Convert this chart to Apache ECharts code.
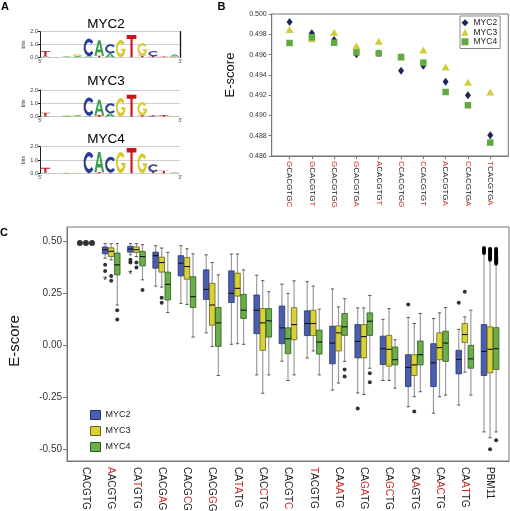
<!DOCTYPE html>
<html><head><meta charset="utf-8">
<script src="https://cdn.jsdelivr.net/npm/echarts@6/dist/echarts.min.js"></script>
<style>html,body{margin:0;padding:0;background:#fff}#c{width:510px;height:511px}</style>
</head><body><div id="c"></div><script>
const FONT = '"Liberation Sans", Arial, Helvetica, sans-serif';

// ---------- Panel A: sequence logos (columns bottom->top: [letter, bits]) ----------
const logoMYC2 = [
  [['A',0.08],['T',0.42]], [['T',0.03]], [['G',0.04],['A',0.05]], [['A',0.1],['G',0.15]],
  [['A',0.08],['C',1.38]], [['T',0.12],['A',1.22]], [['A',0.3],['C',0.72]], [['G',1.35]],
  [['T',1.74]], [['T',0.12],['G',1.0]], [['T',0.1],['C',0.38]], [['T',0.06]], [['T',0.05],['A',0.16]]
];
const logoMYC3 = [
  [['A',0.05],['T',0.25]], [], [['A',0.08],['G',0.06]], [['G',0.05],['A',0.05]],
  [['A',0.06],['C',1.38]], [['T',0.12],['A',1.15]], [['A',0.25],['C',0.75]], [['G',1.4]],
  [['T',1.65]], [['T',0.1],['G',1.0]], [['C',0.05],['T',0.06]], [['T',0.12]], [['A',0.04]]
];
const logoMYC4 = [
  [['A',0.06],['T',0.35]], [], [['A',0.04]], [['G',0.05]],
  [['C',1.6]], [['T',0.1],['A',1.5]], [['T',0.05],['C',1.2]], [['G',1.6]],
  [['T',1.9]], [['G',1.5]], [['T',0.12],['C',0.55]], [['T',0.2]], [['A',0.06]]
];
const logoTitles = ['MYC2','MYC3','MYC4'];

// ---------- Panel B ----------
const bCategories = ['GCACGTGC','GCACGTGT','GCACGTGG','GCACGTGA','ACACGTGT','CCACGTGG','CCACGTGT','ACACGTGA','CCACGTGA','TCACGTGA'];
const bMYC2 = [0.49921,0.49809,0.49744,0.49602,0.49612,0.49441,0.49491,0.49333,0.49198,0.48804];
const bMYC3 = [0.49846,0.49757,0.49819,0.49688,0.49731,0.49576,0.49645,0.49477,0.49326,0.49231];
const bMYC4 = [0.49714,0.49770,0.49717,0.49622,0.49612,0.49576,0.49520,0.49231,0.49100,0.48732];
const bYTicks = [0.486,0.488,0.490,0.492,0.494,0.496,0.498,0.500];

// ---------- Panel C ----------
const cCategories = ['CACGTG','AACGTG','CATGTG','CACGAG','CACGCG','CACGGG','CATATG','CACCTG','CACGTC','TACGTG','CAAATG','CAGATG','CAGCTG','CAAGTG','CAACTG','CAATTG','PBM11'];
const cYTicks = [-0.5,-0.25,0,0.25,0.5];
// [min, q1, median, q3, max]
const cMYC2 = [null,
  [0.419,0.440,0.460,0.473,0.489],[0.435,0.448,0.463,0.476,0.489],[0.285,0.371,0.431,0.448,0.479],
  [0.202,0.334,0.395,0.431,0.479],[0.06,0.221,0.269,0.363,0.435],[0.005,0.206,0.25,0.358,0.439],
  [-0.142,0.056,0.169,0.242,0.337],[-0.076,0.008,0.084,0.189,0.294],[-0.061,0.047,0.105,0.166,0.306],
  [-0.215,-0.089,0.011,0.092,0.271],[-0.229,-0.06,0.019,0.1,0.18],[-0.169,-0.092,-0.016,0.044,0.125],
  [-0.295,-0.198,-0.106,-0.045,0.134],[-0.326,-0.198,-0.084,0.008,0.129],[-0.287,-0.137,-0.068,-0.024,0.077],
  [-0.416,-0.145,-0.029,0.1,0.44]];
const cMYC3 = [null,
  [0.411,0.427,0.452,0.469,0.489],[0.427,0.447,0.46,0.473,0.489],[0.28,0.352,0.398,0.424,0.468],
  [0.197,0.318,0.379,0.422,0.464],[-0.005,0.097,0.194,0.298,0.398],[0.008,0.237,0.274,0.347,0.439],
  [-0.23,-0.024,0.108,0.177,0.311],[-0.142,0.027,0.1,0.181,0.31],[-0.027,0.047,0.105,0.169,0.285],
  [-0.181,-0.027,0.06,0.094,0.185],[-0.236,-0.06,0.042,0.1,0.18],[-0.169,-0.1,-0.019,0.048,0.177],
  [-0.247,-0.145,-0.094,-0.045,0.105],[-0.247,-0.069,-0.011,0.06,0.156],[-0.129,0.013,0.052,0.105,0.137],
  [-0.444,-0.132,-0.019,0.089,0.411]];
const cMYC4 = [null,
  [0.194,0.339,0.387,0.444,0.489],[0.315,0.382,0.427,0.452,0.484],[0.158,0.218,0.293,0.352,0.447],
  [0.04,0.182,0.234,0.33,0.44],[-0.145,-0.005,0.108,0.182,0.339],[0.005,0.129,0.169,0.245,0.363],
  [-0.142,0.04,0.118,0.177,0.258],[-0.169,-0.04,0.032,0.084,0.25],[-0.142,-0.042,0.016,0.073,0.174],
  [-0.077,0.048,0.089,0.153,0.224],[-0.11,0.048,0.116,0.156,0.24],[-0.206,-0.094,-0.069,-0.008,0.027],
  [-0.223,-0.094,-0.045,0.021,0.153],[-0.239,-0.077,0.011,0.068,0.182],[-0.239,-0.11,-0.065,0,0.169],
  [-0.416,-0.116,-0.016,0.085,0.387]];
// outliers [categoryIndex, value]
const cMYC2Outliers = [[0,0.492],[1,0.387],[1,0.358],[2,0.411],[2,0.398],[11,-0.303],[13,0.197],[15,0.205],
  [16,0.444],[16,0.449],[16,0.454],[16,0.459],[16,0.464],[16,0.468]];
const cMYC3Outliers = [[0,0.492],[1,0.334],[1,0.31],[2,0.398],[2,0.374],[3,0.229],[3,0.205],[13,-0.318],[15,0.258],[16,-0.5],
  [16,0.411],[16,0.416],[16,0.421],[16,0.426],[16,0.431],[16,0.436],[16,0.441],[16,0.446],[16,0.451],[16,0.456],[16,0.461],[16,0.465]];
const cMYC4Outliers = [[0,0.492],[1,0.169],[1,0.124],[2,0.266],[10,-0.116],[10,-0.15],[11,-0.134],[11,-0.177],[16,-0.456],
  [16,0.394],[16,0.399],[16,0.404],[16,0.409],[16,0.414],[16,0.419],[16,0.424],[16,0.429],[16,0.434],[16,0.439],[16,0.444],[16,0.449],[16,0.454],[16,0.459],[16,0.465]];
// extreme values marked with '*'
const cMYC2Extremes = [[1,0.319],[2,0.35]];
const seriesNames = ['MYC2','MYC3','MYC4'];

// ---------- styling ----------
const LETTER_PATHS = {
  T: 'M0,0 L100,0 L100,18 L61,18 L61,100 L39,100 L39,18 L0,18 Z',
  A: 'M0,100 L38,0 L62,0 L100,100 L78,100 L70,77 L30,77 L22,100 Z M36,60 L64,60 L50,20 Z',
  C: 'M88.3,17.9 A50,50 0 1 0 88.3,82.1 L73,69.3 A30,30 0 1 1 73,30.7 Z',
  G: 'M88.3,17.9 A50,50 0 1 0 100,50 L55,50 L55,63 L76.5,63 A30,30 0 1 1 73,30.7 Z'
};
const LETTER_COLORS = {A:'#35a047', C:'#2b3c98', G:'#d8c92c', T:'#c8161d'};
const BOX_FILL = ['#4b5ead','#d8d236','#6bae4a'];
const BOX_STROKE = ['#26326a','#66621a','#2d5a1e'];
const BOX_OFFSETS = [-0.24, 0, 0.24];
const RED = '#d42a2a';
const AXIS_GRAY = '#777';

function slotOf(cat, s) { // the CACGTC group shows MYC4 in the middle and MYC3 on the right
  if (cat === 8 && s > 0) return 3 - s;
  return s;
}

function logoData(cols) {
  const out = [];
  cols.forEach((col, pos) => {
    let base = 0;
    col.forEach(([L, h]) => { out.push([pos, base, base + h, L]); base += h; });
  });
  return out;
}
function logoRender(params, api) {
  const pos = api.value(0), b = api.value(1), t = api.value(2);
  const L = api.value(3);
  const p0 = api.coord([pos + 0.05, t]);
  const p1 = api.coord([pos + 0.95, b]);
  return {type:'path', shape:{pathData: LETTER_PATHS[L], x:p0[0], y:p0[1], width:p1[0]-p0[0], height:Math.max(0.3, p1[1]-p0[1]), layout:'cover'},
    style:{fill: LETTER_COLORS[L]}};
}

function makeBoxRender(s) {
  return function (params, api) {
    const cat = api.value(0);
    const x = cat + BOX_OFFSETS[slotOf(cat, s)];
    const unit = api.size([1, 0])[0];
    const bw = unit * 0.22;
    const cx = api.coord([x, 0])[0];
    const ys = [1,2,3,4,5].map(i => api.coord([x, api.value(i)])[1]);
    const [yMin, yQ1, yMed, yQ3, yMax] = ys;
    const wc = '#9c9c9c';
    return {type:'group', children:[
      {type:'line', shape:{x1:cx,y1:yMax,x2:cx,y2:yQ3}, style:{stroke:wc,lineWidth:1.2}},
      {type:'line', shape:{x1:cx,y1:yQ1,x2:cx,y2:yMin}, style:{stroke:wc,lineWidth:1.2}},
      {type:'line', shape:{x1:cx-1.6,y1:yMax,x2:cx+1.6,y2:yMax}, style:{stroke:'#555',lineWidth:1}},
      {type:'line', shape:{x1:cx-1.6,y1:yMin,x2:cx+1.6,y2:yMin}, style:{stroke:'#555',lineWidth:1}},
      {type:'rect', shape:{x:cx-bw/2,y:yQ3,width:bw,height:yQ1-yQ3}, style:{fill:BOX_FILL[s], stroke:BOX_STROKE[s], lineWidth:0.8}},
      {type:'line', shape:{x1:cx-bw/2,y1:yMed,x2:cx+bw/2,y2:yMed}, style:{stroke:'#111',lineWidth:1.1}}
    ]};
  };
}

function richDiff(label) {
  if (label === 'PBM11') return '{k|' + label + '}';
  const ref = 'CACGTG';
  let s = '';
  for (let i = 0; i < label.length; i++) {
    s += (label[i] !== ref[i] ? '{r|' : '{k|') + label[i] + '}';
  }
  return s;
}
function richEnds(label) {
  return '{r|' + label[0] + '}{k|' + label.slice(1, -1) + '}{r|' + label.slice(-1) + '}';
}

// ---------- grids / axes ----------
const logoTops = [31.7, 90, 146.7];
const logoHeights = [25.6, 26.7, 26.6];
const grids = [], xAxes = [], yAxes = [], series = [];
[logoMYC2, logoMYC3, logoMYC4].forEach((cols, i) => {
  grids.push({left:40, top:logoTops[i], width:140, height:logoHeights[i], outerBoundsMode:'none'});
  xAxes.push({type:'value', gridIndex:i, min:0, max:13, axisLine:{show:false, onZero:false}, axisTick:{show:false}, splitLine:{show:false},
    axisLabel:{customValues:[0,13], formatter:v => v === 0 ? "5'" : "3'", fontSize:5, margin:1.5, color:'#333', fontFamily:FONT}});
  yAxes.push({type:'value', gridIndex:i, min:0, max:2, interval:1,
    axisLine:{show:true, onZero:false, lineStyle:{color:'#222', width:1}}, axisTick:{show:true, length:2, lineStyle:{color:'#222'}},
    splitLine:{show:true, lineStyle:{color:'#cfcfcf', width:1}},
    axisLabel:{formatter:v => v.toFixed(1), fontSize:5.5, margin:2, color:'#333', fontFamily:FONT},
    name:'bits', nameLocation:'middle', nameGap:13, nameTextStyle:{fontSize:5, color:'#333', fontFamily:FONT}});
  series.push({type:'custom', name:'logo' + i, xAxisIndex:i, yAxisIndex:i, renderItem:logoRender, clip:false,
    data:logoData(cols), encode:{x:0, y:[1,2]}, silent:true});
});
// right border of first logo
yAxes.push({type:'value', gridIndex:0, min:0, max:2, position:'right', axisLine:{show:true, onZero:false, lineStyle:{color:'#111', width:1.3}},
  axisTick:{show:false}, axisLabel:{show:false}, splitLine:{show:false}});

// Panel B grid (index 3)
grids.push({left:271.7, right:1.7, top:14, bottom:355, show:true, borderColor:AXIS_GRAY, borderWidth:1, outerBoundsMode:'none'});
const bIdx = bCategories.map((_, i) => i);
xAxes.push({type:'value', gridIndex:3, min:-0.8, max:9.81, splitLine:{show:false},
  axisLine:{show:true, onZero:false, lineStyle:{color:AXIS_GRAY}},
  axisTick:{show:true, customValues:bIdx, length:3, lineStyle:{color:AXIS_GRAY}},
  axisLabel:{customValues:bIdx, rotate:-90, margin:5, formatter:v => richEnds(bCategories[Math.round(v)]),
    rich:{k:{color:'#222', fontSize:8, fontFamily:FONT}, r:{color:RED, fontSize:8, fontFamily:FONT}}}});
yAxes.push({type:'value', gridIndex:3, min:0.486, max:0.5, splitLine:{show:false},
  axisLine:{show:true, onZero:false, lineStyle:{color:AXIS_GRAY}},
  axisTick:{show:true, customValues:bYTicks, length:3, lineStyle:{color:AXIS_GRAY}},
  axisLabel:{customValues:bYTicks, formatter:v => v.toFixed(3), fontSize:7, margin:5, color:'#333', fontFamily:FONT}});
const bYIndex = yAxes.length - 1;
const bSymbols = [['diamond',[6,8],'#1c2759'], ['triangle',[8,7],'#d2cc3c'], ['rect',[6.5,6.5],'#62a845']];
[bMYC2, bMYC3, bMYC4].forEach((vals, s) => {
  series.push({type:'scatter', name:seriesNames[s], xAxisIndex:3, yAxisIndex:bYIndex,
    symbol:bSymbols[s][0], symbolSize:bSymbols[s][1], itemStyle:{color:bSymbols[s][2], opacity:1},
    data:vals.map((v, i) => [i, v]), z:3 + s});
});

// Panel C grid (index 4)
grids.push({left:67, right:1, top:227, bottom:50, show:true, borderColor:AXIS_GRAY, borderWidth:1, outerBoundsMode:'none'});
const cIdx = cCategories.map((_, i) => i);
xAxes.push({type:'value', gridIndex:4, min:-0.75, max:16.75, splitLine:{show:false},
  axisLine:{show:true, onZero:false, lineStyle:{color:AXIS_GRAY}}, axisTick:{show:false},
  axisLabel:{customValues:cIdx, rotate:-90, margin:6, formatter:v => richDiff(cCategories[Math.round(v)]),
    rich:{k:{color:'#222', fontSize:10, fontFamily:FONT}, r:{color:RED, fontSize:10, fontFamily:FONT}}}});
yAxes.push({type:'value', gridIndex:4, min:-0.556, max:0.569, splitLine:{show:false},
  axisLine:{show:true, onZero:false, lineStyle:{color:AXIS_GRAY}},
  axisTick:{show:true, customValues:cYTicks, length:4, lineStyle:{color:AXIS_GRAY}},
  axisLabel:{customValues:cYTicks, formatter:v => v.toFixed(2), fontSize:10, margin:5, color:'#333', fontFamily:FONT}});
const cYIndex = yAxes.length - 1;
[cMYC2, cMYC3, cMYC4].forEach((stats, s) => {
  const data = [];
  stats.forEach((st, cat) => { if (st) data.push([cat].concat(st)); });
  series.push({type:'custom', name:seriesNames[s], xAxisIndex:4, yAxisIndex:cYIndex, renderItem:makeBoxRender(s),
    clip:false, data:data, encode:{x:0, y:[1,2,3,4,5]}, itemStyle:{color:BOX_FILL[s]}, z:2});
});
[cMYC2Outliers, cMYC3Outliers, cMYC4Outliers].forEach((outs, s) => {
  series.push({type:'scatter', name:'out' + s, xAxisIndex:4, yAxisIndex:cYIndex, symbol:'circle',
    itemStyle:{color:'#000'}, z:4,
    data:outs.map(([cat, v]) => ({value:[cat + BOX_OFFSETS[slotOf(cat, s)], v], symbolSize: cat === 0 ? 6 : 4}))});
});
series.push({type:'custom', name:'extremes', xAxisIndex:4, yAxisIndex:cYIndex, clip:false, z:4,
  data:cMYC2Extremes.map(([cat, v]) => [cat + BOX_OFFSETS[0], v]), encode:{x:0, y:1},
  renderItem:(params, api) => {
    const p = api.coord([api.value(0), api.value(1)]);
    return {type:'text', x:p[0], y:p[1] + 2, style:{text:'*', fontSize:11, fill:'#222', align:'center', verticalAlign:'middle', fontFamily:FONT}};
  }});

const option = {
  animation:false,
  backgroundColor:'#fff',
  textStyle:{fontFamily:FONT},
  title:[
    {text:'A', left:1, top:1, padding:0, textStyle:{fontSize:11, fontWeight:'bold', color:'#000', fontFamily:FONT}},
    {text:'B', left:217.5, top:1.5, padding:0, textStyle:{fontSize:11, fontWeight:'bold', color:'#000', fontFamily:FONT}},
    {text:'C', left:0, top:227.5, padding:0, textStyle:{fontSize:11, fontWeight:'bold', color:'#000', fontFamily:FONT}},
    {text:logoTitles[0], left:106, textAlign:'center', top:17.3, padding:0, textStyle:{fontSize:13.5, fontWeight:'normal', color:'#000', fontFamily:FONT}},
    {text:logoTitles[1], left:106, textAlign:'center', top:74.7, padding:0, textStyle:{fontSize:13.5, fontWeight:'normal', color:'#000', fontFamily:FONT}},
    {text:logoTitles[2], left:106, textAlign:'center', top:132, padding:0, textStyle:{fontSize:13.5, fontWeight:'normal', color:'#000', fontFamily:FONT}}
  ],
  legend:[
    {orient:'vertical', left:460, top:16, padding:[2,3,2,1.5], itemGap:0, itemWidth:7, itemHeight:7,
      borderColor:'#8a8a8a', borderWidth:1, selectedMode:false,
      textStyle:{fontSize:8.5, lineHeight:9.5, color:'#222', fontFamily:FONT},
      data:[{name:'MYC2', icon:'diamond', itemStyle:{color:bSymbols[0][2]}},
            {name:'MYC3', icon:'triangle', itemStyle:{color:bSymbols[1][2]}},
            {name:'MYC4', icon:'rect', itemStyle:{color:bSymbols[2][2]}}]},
    {orient:'vertical', left:90, top:410, padding:0, itemGap:6, itemWidth:10, itemHeight:9, selectedMode:false,
      textStyle:{fontSize:9, lineHeight:10, color:'#222', fontFamily:FONT},
      data:seriesNames.map((n, s) => ({name:n, icon:'rect', itemStyle:{color:BOX_FILL[s], borderColor:BOX_STROKE[s], borderWidth:1}}))}
  ],
  graphic:[
    {type:'text', x:230, y:75, rotation:Math.PI/2, style:{text:'E-score', fontSize:13, fill:'#111', align:'center', verticalAlign:'middle', fontFamily:FONT}},
    {type:'text', x:15, y:341, rotation:Math.PI/2, style:{text:'E-score', fontSize:15, fill:'#111', align:'center', verticalAlign:'middle', fontFamily:FONT}}
  ],
  grid:grids, xAxis:xAxes, yAxis:yAxes, series:series
};
const chart = echarts.init(document.getElementById('c'), null, {renderer:'canvas', width:510, height:511});
chart.setOption(option);
</script></body></html>
